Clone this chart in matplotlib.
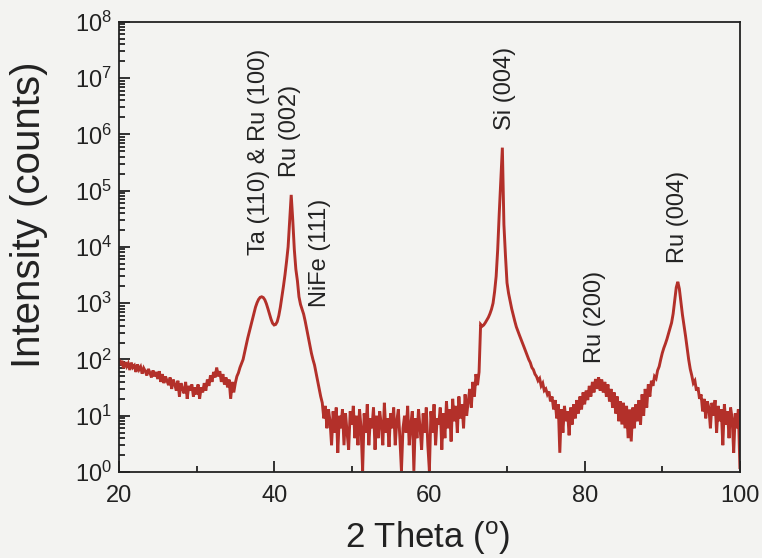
import numpy as np
import matplotlib
matplotlib.use("Agg")
import matplotlib.pyplot as plt
from matplotlib.ticker import LogLocator, FixedLocator, NullFormatter

plt.rcParams["font.family"] = ["Liberation Sans", "DejaVu Sans"]
plt.rcParams["mathtext.fontset"] = "custom"
plt.rcParams["mathtext.rm"] = "Liberation Sans"
plt.rcParams["mathtext.default"] = "regular"

BG = "#f3f3f1"
LINE = "#b3302a"

# XRD scan, 2-theta step 0.2 deg from 20 to 100 (counts)
step_start, step_end, step = 20.0, 100.0, 0.2

counts_20_25 = [100, 80, 95, 70, 90, 75, 85, 65, 88, 72, 78, 60, 82, 66, 74,
                56, 70, 62, 52, 68, 58, 48, 64, 50, 60]
counts_25_30 = [45, 62, 40, 55, 38, 50, 42, 35, 48, 30, 44, 36, 28, 42, 22,
                38, 30, 25, 40, 20, 34, 28, 36, 22, 32]
counts_30_35 = [24, 36, 20, 32, 26, 38, 28, 44, 34, 52, 40, 60, 48, 72, 50,
                62, 40, 55, 36, 48, 32, 44, 20, 40, 26]
counts_35_40 = [38, 50, 58, 72, 85, 100, 135, 180, 240, 310, 400, 520, 680,
                850, 1020, 1170, 1270, 1300, 1260, 1150, 980, 800, 640, 520, 440]
counts_40_45 = [410, 420, 470, 600, 850, 1300, 2000, 3200, 5500, 10000,
                30000, 84000, 30000, 9000, 4000, 2500, 1300, 950, 780, 640,
                480, 350, 250, 180, 130]
counts_45_50 = [100, 80, 58, 42, 30, 22, 17, 9, 15, 6, 13, 8, 3, 12, 5, 14,
                2.2, 10, 6, 13, 3, 11, 5, 2.5, 12]
counts_50_55 = [7, 15, 4, 10, 3, 13, 6, 1.05, 11, 5, 16, 3, 9, 6, 14, 2.5, 10,
                4, 12, 7, 3, 17, 5, 9, 2.8]
counts_55_60 = [11, 6, 14, 3, 8, 13, 4, 1.05, 6, 10, 5, 15, 3, 7, 12, 1.05, 9,
                4, 13, 6, 2.5, 11, 5, 14, 3]
counts_60_65 = [1.05, 12, 5, 16, 3, 9, 7, 14, 2.5, 11, 4, 18, 6, 13, 3.5, 20,
                8, 15, 5, 22, 9, 16, 6, 24, 10]
counts_65_70 = [18, 30, 14, 40, 22, 55, 35, 60, 420, 390, 410, 450, 500, 560,
                650, 780, 1000, 1600, 3000, 9000, 40000, 150000, 580000,
                25000, 7000]
counts_70_75 = [2300, 1500, 1100, 800, 620, 480, 380, 320, 270, 230, 195, 165,
                140, 120, 100, 88, 72, 66, 55, 50, 42, 46, 34, 38, 28]
counts_75_80 = [30, 24, 27, 18, 22, 13, 19, 9, 16, 2.2, 13, 5, 15, 8, 12, 4.5,
                14, 7, 16, 9, 19, 11, 22, 13, 26]
counts_80_85 = [16, 28, 19, 34, 22, 40, 26, 45, 30, 48, 28, 44, 26, 40, 22,
                36, 18, 30, 14, 26, 11, 22, 8, 18, 7]
counts_85_90 = [17, 6, 15, 4, 13, 3.5, 14, 6, 16, 8, 19, 7, 24, 10, 30, 14,
                36, 22, 42, 34, 50, 46, 64, 75, 100]
counts_90_95 = [130, 160, 190, 230, 290, 360, 450, 650, 1100, 1900, 2400,
                1800, 1050, 620, 400, 260, 160, 100, 68, 52, 38, 42, 28, 32, 20]
counts_95_100 = [24, 12, 20, 9, 18, 14, 6, 17, 10, 19, 5, 15, 8, 13, 3, 16, 7,
                 12, 4, 14, 9, 2.2, 11, 6, 13, 1.2]

counts = np.array(counts_20_25 + counts_25_30 + counts_30_35 + counts_35_40
                  + counts_40_45 + counts_45_50 + counts_50_55 + counts_55_60
                  + counts_60_65 + counts_65_70 + counts_70_75 + counts_75_80
                  + counts_80_85 + counts_85_90 + counts_90_95 + counts_95_100)
two_theta = step_start + step * np.arange(len(counts))

# peak labels: text, x position, y of the label's lower end
peak_labels = ["Ta (110) & Ru (100)", "Ru (002)", "NiFe (111)",
               "Si (004)", "Ru (200)", "Ru (004)"]
peak_x = [38.1, 42.0, 45.9, 69.7, 81.3, 92.0]
peak_y = [10**3.86, 10**5.24, 10**2.93, 10**6.08, 10**1.94, 10**3.72]

fig = plt.figure(figsize=(7.62, 5.58), dpi=100, facecolor=BG)
ax = fig.add_axes((0.156, 0.154, 0.815, 0.807), facecolor=BG)

ax.plot(two_theta, counts, color=LINE, linewidth=2.1, solid_joinstyle="miter")
ax.set_yscale("log")
ax.set_xlim(step_start, step_end)
ax.set_ylim(1, 1e8)

ax.xaxis.set_major_locator(FixedLocator([20, 40, 60, 80, 100]))
ax.xaxis.set_minor_locator(FixedLocator([30, 50, 70, 90]))
ax.yaxis.set_major_locator(LogLocator(base=10, numticks=12))
ax.yaxis.set_minor_locator(LogLocator(base=10, subs=np.arange(2, 10), numticks=12))
ax.yaxis.set_minor_formatter(NullFormatter())

ax.tick_params(which="both", direction="in", top=False, right=False,
               labelsize=17, colors="#222222", width=1.3)
ax.tick_params(which="major", length=8)
ax.tick_params(which="minor", length=4)
ax.tick_params(axis="x", pad=9)
ax.tick_params(axis="y", pad=5)
for s in ax.spines.values():
    s.set_linewidth(1.3)
    s.set_color("#222222")

for text, x, y in zip(peak_labels, peak_x, peak_y):
    ax.text(x, y, text, rotation=90, ha="center", va="bottom",
            fontsize=17, color="#222222")

ax.set_xlabel(r"2 Theta ($^{o}$)", fontsize=25, color="#222222")
ax.xaxis.set_label_coords(0.497, -0.105)
ax.set_ylabel("Intensity (counts)", fontsize=29, color="#222222")
ax.yaxis.set_label_coords(-0.114, 0.571)

fig.savefig("out.png", dpi=100, facecolor=BG)
